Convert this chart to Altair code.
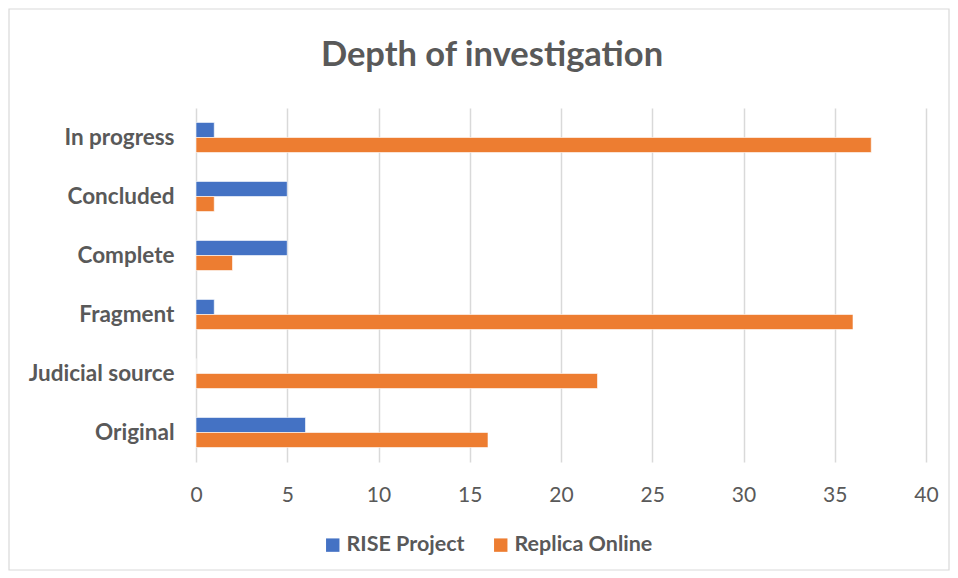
import altair as alt
import pandas as pd

title_text = "Depth of investigation"
categories = ["In progress", "Concluded", "Complete", "Fragment", "Judicial source", "Original"]
series = ["RISE Project", "Replica Online"]
rise_values = [1, 5, 5, 1, 0, 6]
replica_values = [37, 1, 2, 36, 22, 16]
x_ticks = [0, 5, 10, 15, 20, 25, 30, 35, 40]

rows = []
for c, r, p in zip(categories, rise_values, replica_values):
    rows.append({"category": c, "series": series[0], "value": r})
    rows.append({"category": c, "series": series[1], "value": p})
df = pd.DataFrame(rows)

FONT = "Lato"
GREY = "#595959"

bars = alt.Chart(df).mark_bar(stroke="white", strokeWidth=0.6).encode(
    y=alt.Y("category:N", sort=categories, title=None,
            scale=alt.Scale(paddingInner=0.49, paddingOuter=0.245),
            axis=alt.Axis(domain=False, ticks=False, grid=False, labelFont=FONT,
                          labelFontWeight="bold", labelFontSize=22.5, labelColor=GREY,
                          labelPadding=22)),
    yOffset=alt.YOffset("series:N", sort=series),
    x=alt.X("value:Q", title=None,
            scale=alt.Scale(domain=[0, 40], nice=False),
            axis=alt.Axis(values=x_ticks, domain=False, ticks=False, grid=True,
                          gridColor="#D9D9D9", gridWidth=1.5, labelFont=FONT,
                          labelFontSize=21, labelColor=GREY, labelPadding=22,
                          labelFlush=False)),
    color=alt.Color("series:N", sort=series,
                    scale=alt.Scale(domain=series, range=["#4472C4", "#ED7D31"]),
                    legend=alt.Legend(title=None, orient="none", direction="horizontal",
                                      legendX=126, legendY=426, symbolType="square",
                                      symbolSize=180, symbolStrokeWidth=0,
                                      labelFont=FONT, labelFontWeight="bold",
                                      labelFontSize=21.5, labelColor=GREY,
                                      labelOffset=3, columnPadding=25)),
)

frame = alt.Chart(pd.DataFrame({"a": [0]})).mark_rect(
    fill=None, stroke="#D9D9D9", strokeWidth=1.2
).encode(
    x=alt.value(-187), x2=alt.value(753), y=alt.value(-99), y2=alt.value(462)
)

title = alt.Chart(pd.DataFrame({"t": [title_text]})).mark_text(
    font=FONT, fontSize=34.5, fontWeight="bold", color=GREY, align="center", baseline="middle"
).encode(
    text="t:N", x=alt.value(296), y=alt.value(-52)
)

chart = alt.layer(frame, title, bars).properties(
    width=730, height=354,
    padding=0,
    background="white",
).configure_view(stroke=None)

chart.save("out.html", embed_options={"renderer": "svg", "actions": False})
